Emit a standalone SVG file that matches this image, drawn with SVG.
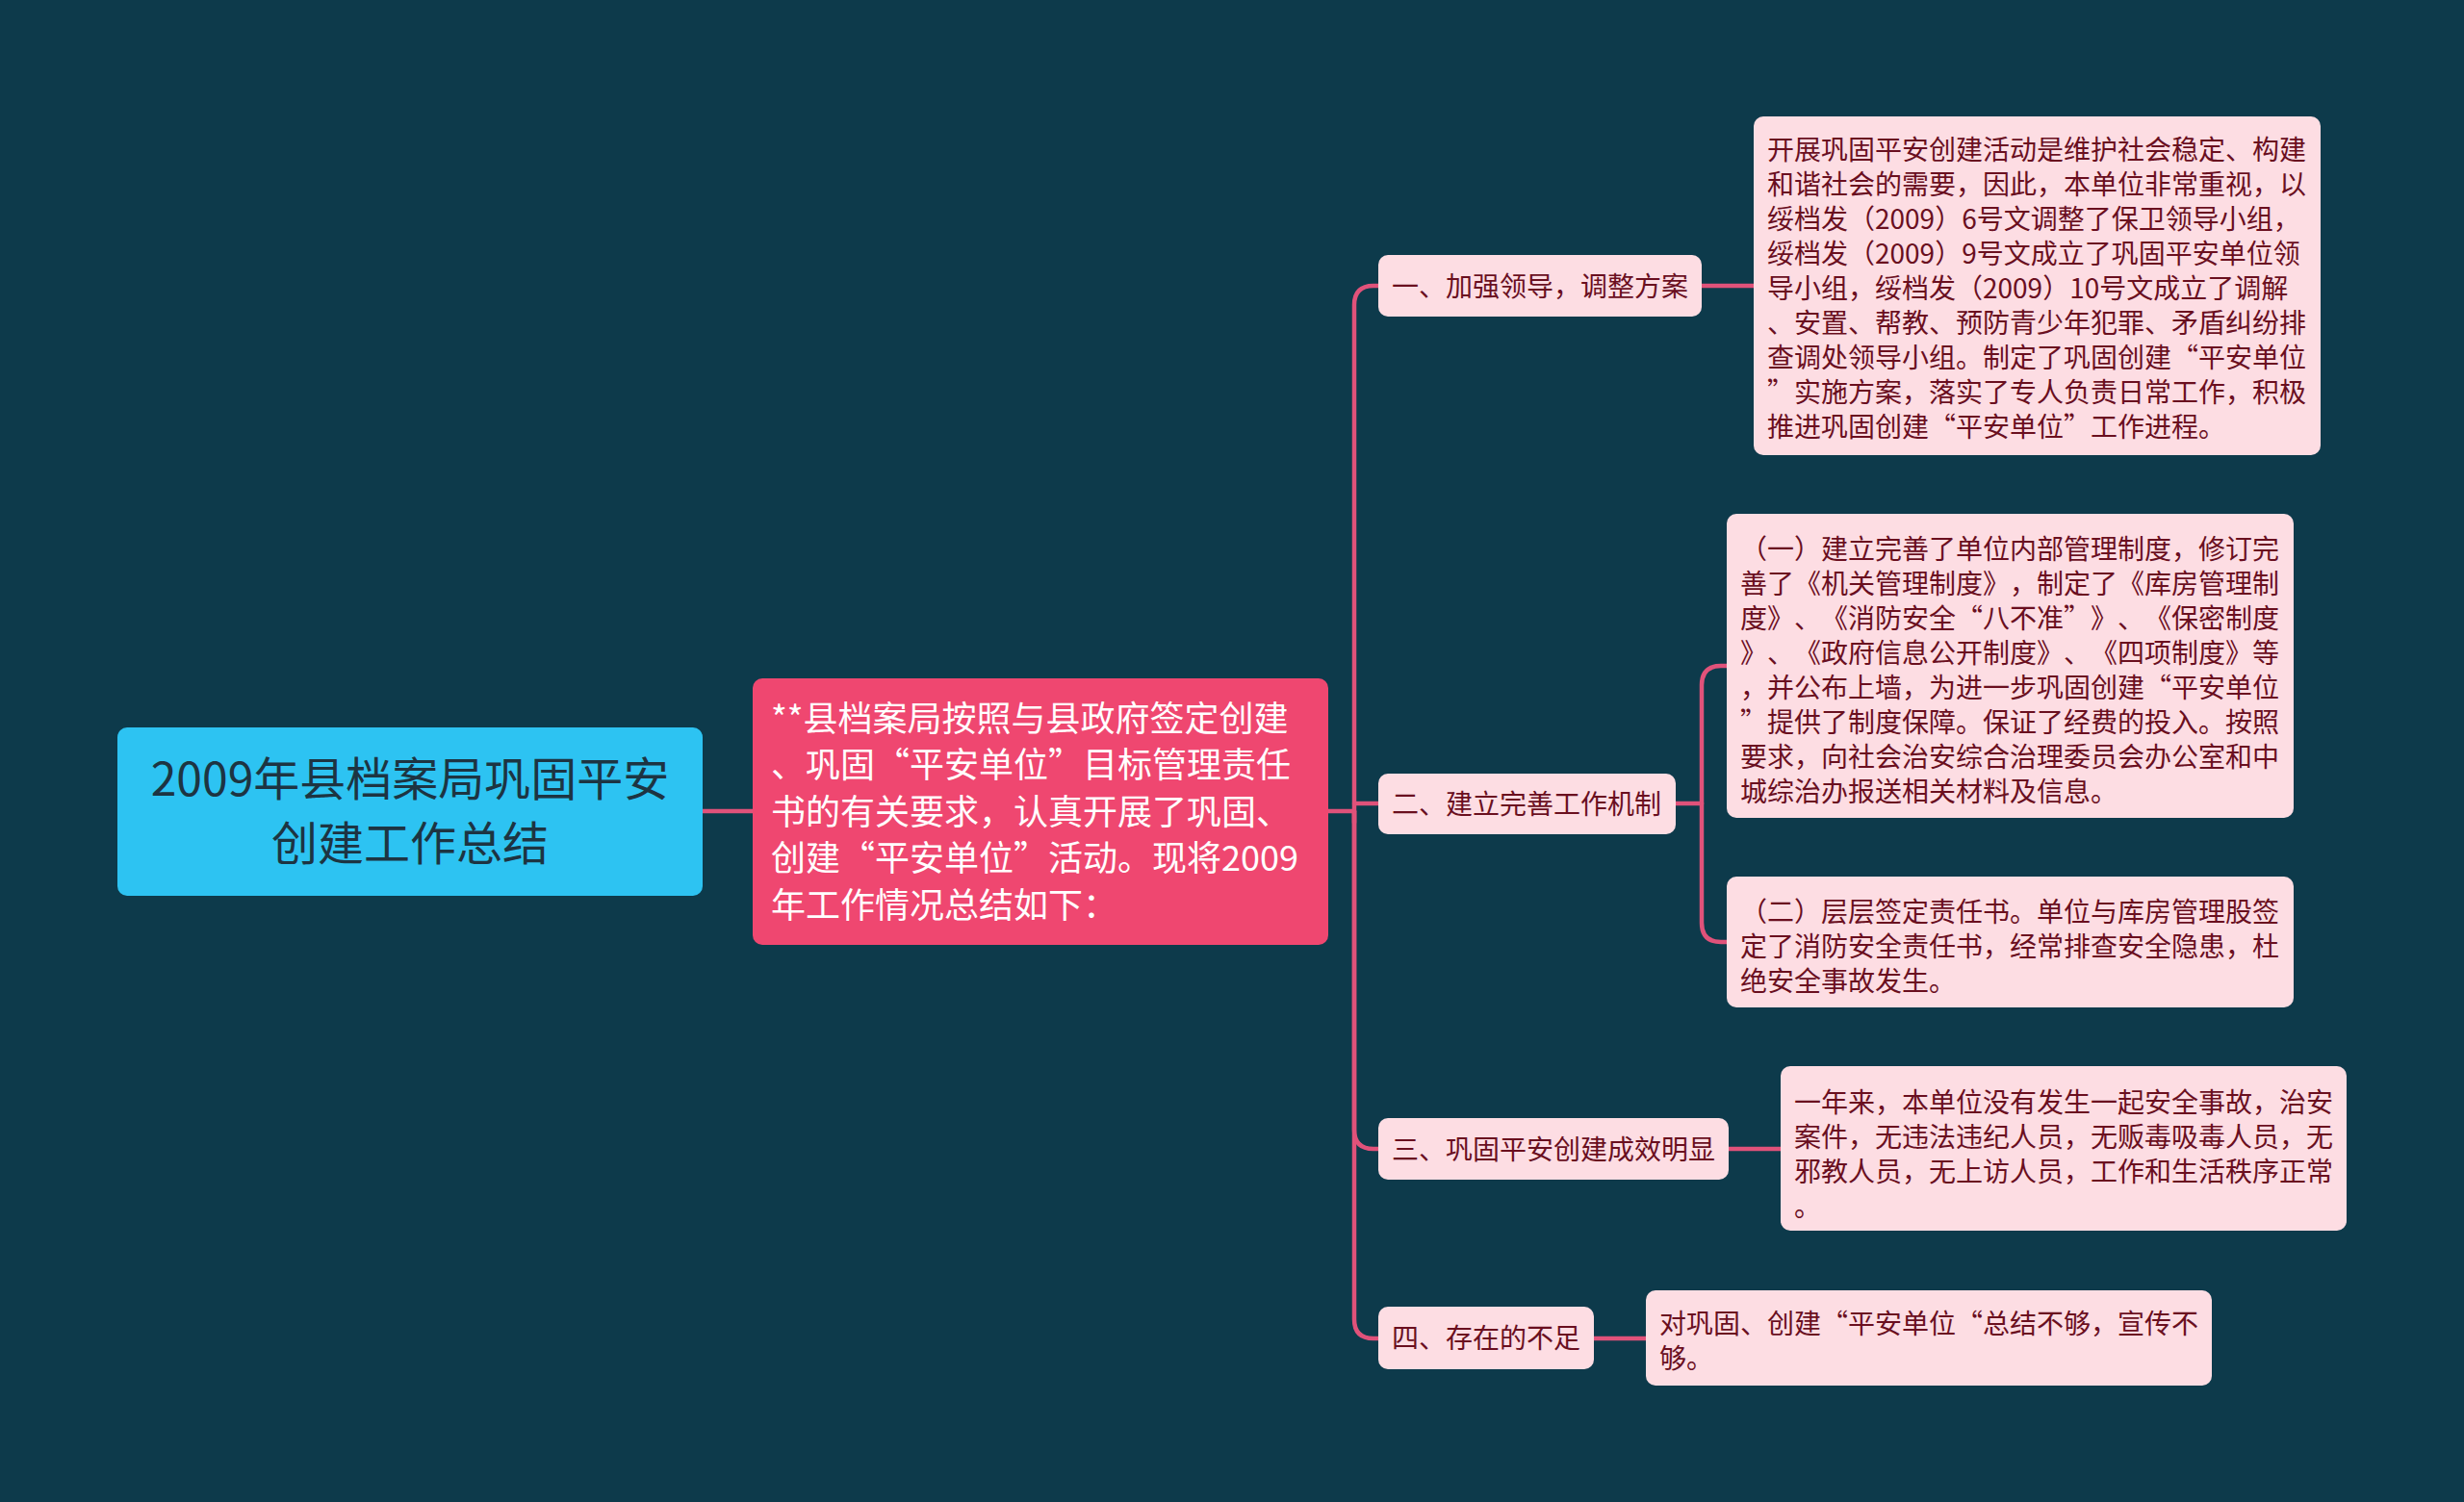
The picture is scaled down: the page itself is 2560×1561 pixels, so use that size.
<svg xmlns="http://www.w3.org/2000/svg" width="2560" height="1561" viewBox="0 0 2560 1561">
<style>
.cn{fill:none;stroke:#E0527A;stroke-width:4.5;stroke-linecap:round;stroke-linejoin:round}
.leaf{fill:#FDDDE3}
.t{font-family:"Noto Sans CJK SC","Noto Sans",sans-serif;text-spacing-trim:space-all}
.lt{font-size:28px;fill:#6A0F1F}
.mt{font-size:36px;fill:#FFFFFF}
.rt{font-size:48px;fill:#1D3442}
</style>
<rect x="0" y="0" width="2560" height="1561" fill="#0D3A4B"/>
<g id="connectors">
<path class="cn" d="M730 843 H782"/>
<path class="cn" d="M1380 843 H1407"/>
<path class="cn" d="M1407 843 V317 Q1407 297 1427 297 H1432"/>
<path class="cn" d="M1407 843 V855 M1407 835 H1432"/>
<path class="cn" d="M1407 843 V1174 Q1407 1194 1427 1194 H1432"/>
<path class="cn" d="M1407 843 V1371 Q1407 1391 1427 1391 H1432"/>
<path class="cn" d="M1768 297 H1822"/>
<path class="cn" d="M1741 835 H1768"/>
<path class="cn" d="M1768 835 V712 Q1768 692 1788 692 H1794"/>
<path class="cn" d="M1768 835 V959 Q1768 979 1788 979 H1794"/>
<path class="cn" d="M1796 1194 H1850"/>
<path class="cn" d="M1656 1391 H1710"/>
</g>
<g id="root">
<rect x="122" y="756" width="608" height="175" rx="10" fill="#2DC3F2"/>
<text class="t rt" text-anchor="middle"><tspan x="426" y="827">2009年县档案局巩固平安</tspan><tspan x="426" y="894">创建工作总结</tspan></text>
</g>
<g id="main">
<rect x="782" y="705" width="598" height="277" rx="10" fill="#EF4770"/>
<text class="t mt"><tspan x="801" y="760">**县档案局按照与县政府签定创建</tspan><tspan x="801" y="808">、巩固“平安单位”目标管理责任</tspan><tspan x="801" y="857">书的有关要求，认真开展了巩固、</tspan><tspan x="801" y="905">创建“平安单位”活动。现将2009</tspan><tspan x="801" y="954">年工作情况总结如下：</tspan></text>
</g>
<g id="n1">
<rect class="leaf" x="1432" y="265" width="336" height="64" rx="10"/>
<text class="t lt" x="1446" y="308">一、加强领导，调整方案</text>
</g>
<g id="n1a">
<rect class="leaf" x="1822" y="121" width="589" height="352" rx="10"/>
<text class="t lt"><tspan x="1836" y="166">开展巩固平安创建活动是维护社会稳定、构建</tspan><tspan x="1836" y="202">和谐社会的需要，因此，本单位非常重视，以</tspan><tspan x="1836" y="238">绥档发（2009）6号文调整了保卫领导小组，</tspan><tspan x="1836" y="274">绥档发（2009）9号文成立了巩固平安单位领</tspan><tspan x="1836" y="310">导小组，绥档发（2009）10号文成立了调解</tspan><tspan x="1836" y="346">、安置、帮教、预防青少年犯罪、矛盾纠纷排</tspan><tspan x="1836" y="382">查调处领导小组。制定了巩固创建“平安单位</tspan><tspan x="1836" y="418">”实施方案，落实了专人负责日常工作，积极</tspan><tspan x="1836" y="454">推进巩固创建“平安单位”工作进程。</tspan></text>
</g>
<g id="n2">
<rect class="leaf" x="1432" y="804" width="309" height="63" rx="10"/>
<text class="t lt" x="1446" y="846">二、建立完善工作机制</text>
</g>
<g id="n2a">
<rect class="leaf" x="1794" y="534" width="589" height="316" rx="10"/>
<text class="t lt"><tspan x="1808" y="581">（一）建立完善了单位内部管理制度，修订完</tspan><tspan x="1808" y="617">善了《机关管理制度》，制定了《库房管理制</tspan><tspan x="1808" y="653">度》、《消防安全“八不准”》、《保密制度</tspan><tspan x="1808" y="689">》、《政府信息公开制度》、《四项制度》等</tspan><tspan x="1808" y="725">，并公布上墙，为进一步巩固创建“平安单位</tspan><tspan x="1808" y="761">”提供了制度保障。保证了经费的投入。按照</tspan><tspan x="1808" y="797">要求，向社会治安综合治理委员会办公室和中</tspan><tspan x="1808" y="833">城综治办报送相关材料及信息。</tspan></text>
</g>
<g id="n2b">
<rect class="leaf" x="1794" y="911" width="589" height="136" rx="10"/>
<text class="t lt"><tspan x="1808" y="958">（二）层层签定责任书。单位与库房管理股签</tspan><tspan x="1808" y="994">定了消防安全责任书，经常排查安全隐患，杜</tspan><tspan x="1808" y="1030">绝安全事故发生。</tspan></text>
</g>
<g id="n3">
<rect class="leaf" x="1432" y="1162" width="364" height="64" rx="10"/>
<text class="t lt" x="1446" y="1205">三、巩固平安创建成效明显</text>
</g>
<g id="n3a">
<rect class="leaf" x="1850" y="1108" width="588" height="171" rx="10"/>
<text class="t lt"><tspan x="1864" y="1156">一年来，本单位没有发生一起安全事故，治安</tspan><tspan x="1864" y="1192">案件，无违法违纪人员，无贩毒吸毒人员，无</tspan><tspan x="1864" y="1228">邪教人员，无上访人员，工作和生活秩序正常</tspan><tspan x="1864" y="1264">。</tspan></text>
</g>
<g id="n4">
<rect class="leaf" x="1432" y="1358" width="224" height="65" rx="10"/>
<text class="t lt" x="1446" y="1401">四、存在的不足</text>
</g>
<g id="n4a">
<rect class="leaf" x="1710" y="1341" width="588" height="99" rx="10"/>
<text class="t lt"><tspan x="1724" y="1386">对巩固、创建“平安单位“总结不够，宣传不</tspan><tspan x="1724" y="1422">够。</tspan></text>
</g>
</svg>
